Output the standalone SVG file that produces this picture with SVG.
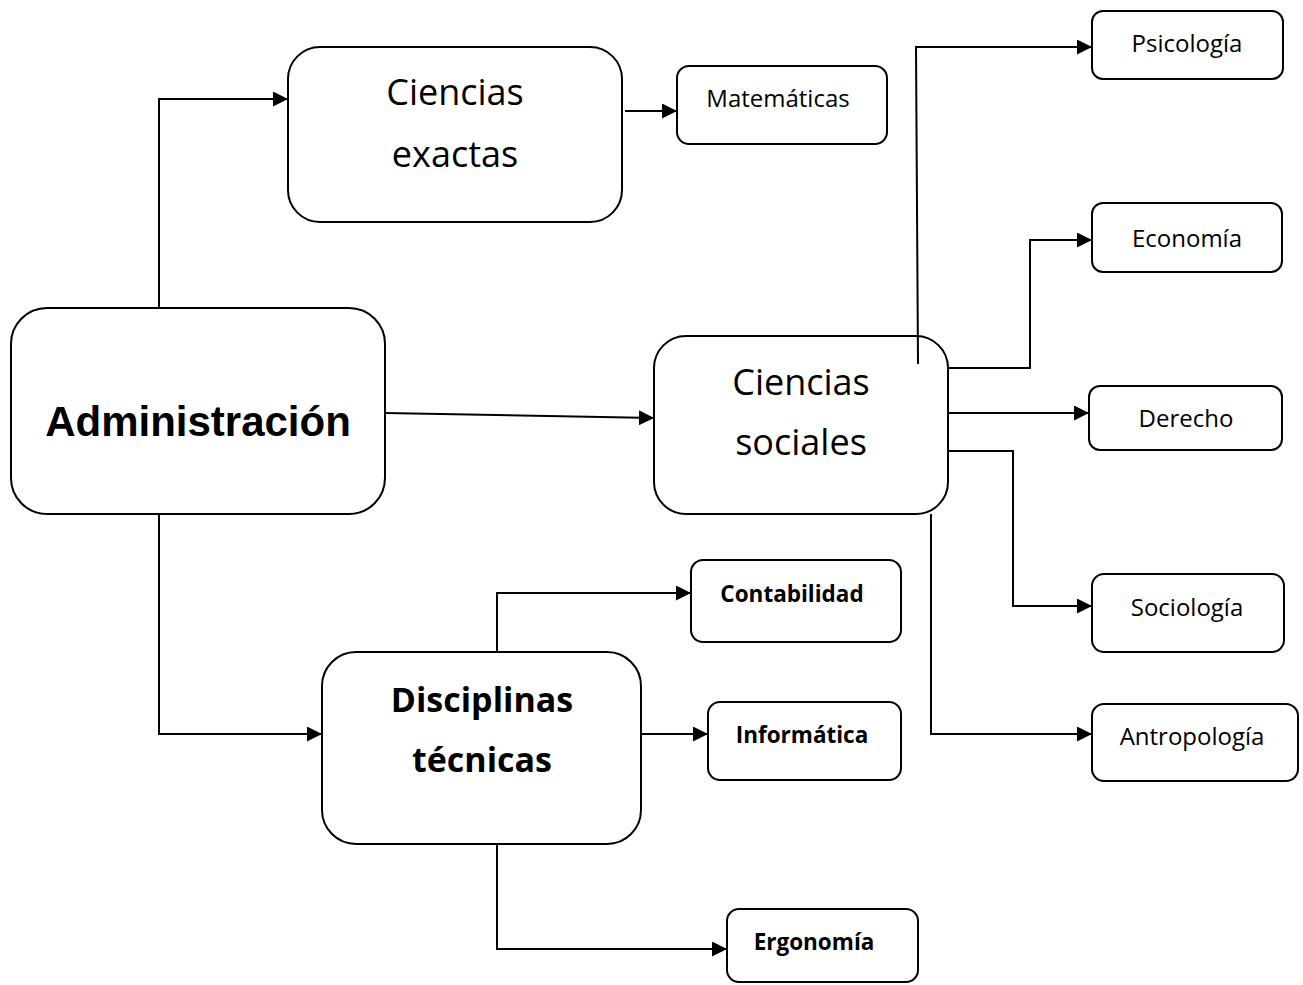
<svg xmlns="http://www.w3.org/2000/svg" width="1303" height="985" viewBox="0 0 1303 985">
<defs>
<marker id="arr" markerUnits="userSpaceOnUse" markerWidth="16" markerHeight="15" refX="15" refY="7.5" orient="auto">
<path d="M0,0 L15,7.5 L0,15 z" fill="#000"/>
</marker>
<style>
.box{fill:#fff;stroke:#000;stroke-width:2}
.c{fill:none;stroke:#000;stroke-width:2;marker-end:url(#arr)}
.big{font-family:"Open Sans","Liberation Sans",sans-serif;font-size:36px;text-anchor:middle;fill:#000}
.bigb{font-family:"Open Sans","Liberation Sans",sans-serif;font-size:34px;font-weight:bold;text-anchor:middle;fill:#000}
.sm{font-family:"Open Sans","Liberation Sans",sans-serif;font-size:24px;text-anchor:middle;fill:#000}
.smb{font-family:"Open Sans","Liberation Sans",sans-serif;font-size:22.5px;font-weight:bold;text-anchor:middle;fill:#000}
.adm{font-family:"Liberation Sans",Arial,sans-serif;font-size:42px;font-weight:bold;text-anchor:middle;fill:#000}
</style>
</defs>
<rect width="1303" height="985" fill="#fff"/>
<g id="administracion">
<rect class="box" x="11" y="308" width="374" height="206" rx="36"/>
<text class="adm" x="198" y="436">Administración</text>
</g>
<g id="ciencias-exactas">
<rect class="box" x="288" y="47" width="334" height="175" rx="32"/>
<text class="big" x="455" y="105">Ciencias</text>
<text class="big" x="455" y="167">exactas</text>
</g>
<g id="matematicas">
<rect class="box" x="677" y="66" width="210" height="78" rx="12"/>
<text class="sm" x="778" y="107">Matemáticas</text>
</g>
<g id="ciencias-sociales">
<rect class="box" x="654" y="336" width="294" height="178" rx="32"/>
<text class="big" x="801" y="395">Ciencias</text>
<text class="big" x="801" y="455">sociales</text>
</g>
<g id="psicologia">
<rect class="box" x="1092" y="11" width="191" height="68" rx="11"/>
<text class="sm" x="1187" y="52">Psicología</text>
</g>
<g id="economia">
<rect class="box" x="1092" y="203" width="190" height="69" rx="11"/>
<text class="sm" x="1187" y="247">Economía</text>
</g>
<g id="derecho">
<rect class="box" x="1089" y="386" width="193" height="64" rx="11"/>
<text class="sm" x="1186" y="427">Derecho</text>
</g>
<g id="sociologia">
<rect class="box" x="1092" y="574" width="192" height="78" rx="12"/>
<text class="sm" x="1187" y="616">Sociología</text>
</g>
<g id="antropologia">
<rect class="box" x="1092" y="704" width="206" height="77" rx="12"/>
<text class="sm" x="1192" y="745">Antropología</text>
</g>
<g id="disciplinas-tecnicas">
<rect class="box" x="322" y="652" width="319" height="192" rx="34"/>
<text class="bigb" x="482" y="712">Disciplinas</text>
<text class="bigb" x="482" y="772">técnicas</text>
</g>
<g id="contabilidad">
<rect class="box" x="691" y="560" width="210" height="82" rx="12"/>
<text class="smb" x="792" y="602">Contabilidad</text>
</g>
<g id="informatica">
<rect class="box" x="708" y="702" width="193" height="78" rx="12"/>
<text class="smb" x="802" y="743">Informática</text>
</g>
<g id="ergonomia">
<rect class="box" x="727" y="909" width="191" height="73" rx="12"/>
<text class="smb" x="814" y="950">Ergonomía</text>
</g>
<g id="connectors">
<path class="c" d="M159,308 L159,99 L288,99"/>
<path class="c" d="M625,111 L677,111"/>
<path class="c" d="M385,413 L654,418"/>
<path class="c" d="M918,364 L916,47 L1092,47"/>
<path class="c" d="M948,368 L1030,368 L1030,240 L1092,240"/>
<path class="c" d="M948,413 L1089,413"/>
<path class="c" d="M948,451 L1013,451 L1013,606 L1092,606"/>
<path class="c" d="M931,514 L931,734 L1092,734"/>
<path class="c" d="M159,514 L159,734 L322,734"/>
<path class="c" d="M497,652 L497,593 L691,593"/>
<path class="c" d="M641,734 L708,734"/>
<path class="c" d="M497,844 L497,949 L727,949"/>
</g>
</svg>
